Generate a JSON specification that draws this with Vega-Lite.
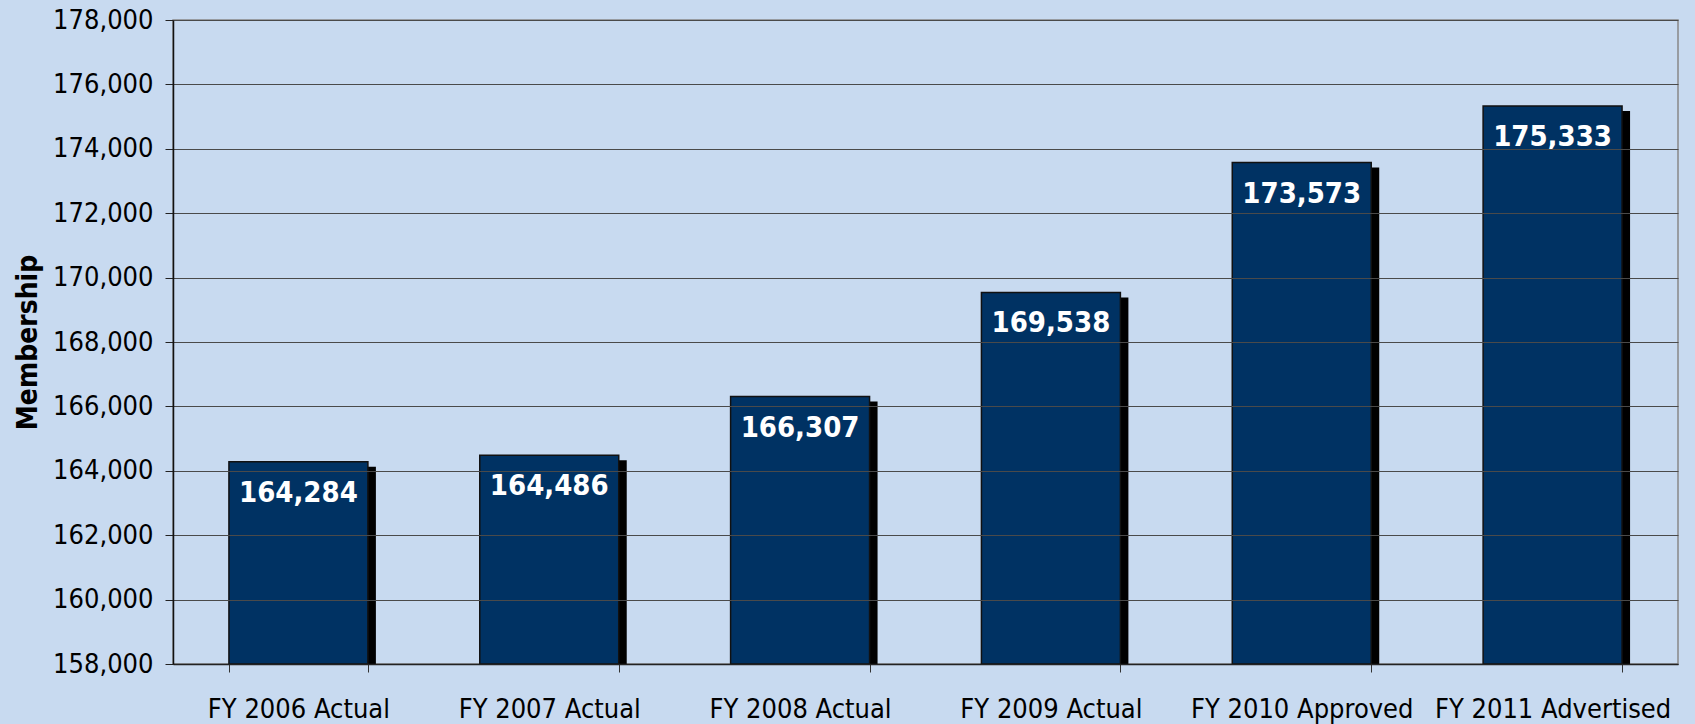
{
  "$schema": "https://vega.github.io/schema/vega-lite/v6.json",
  "width": 1505,
  "height": 644,
  "autosize": {"type": "none"},
  "padding": {"left": 173, "top": 20, "right": 17, "bottom": 60},
  "background": "#c8daf0",
  "config": {
    "view": {"stroke": "#888888", "strokeWidth": 1.5},
    "font": "DejaVu Sans Condensed, Open Sans"
  },
  "data": {
    "values": [
      {"year": "FY 2006 Actual", "membership": 164284},
      {"year": "FY 2007 Actual", "membership": 164486},
      {"year": "FY 2008 Actual", "membership": 166307},
      {"year": "FY 2009 Actual", "membership": 169538},
      {"year": "FY 2010 Approved", "membership": 173573},
      {"year": "FY 2011 Advertised", "membership": 175333}
    ]
  },
  "encoding": {
    "x": {
      "field": "year",
      "type": "nominal",
      "sort": null,
      "scale": {"paddingInner": 0.446, "paddingOuter": 0.223},
      "axis": {
        "title": null,
        "labelAngle": 0,
        "labelFont": "DejaVu Sans Condensed, Open Sans",
        "labelFontSize": 27,
        "labelColor": "#000000",
        "labelPadding": 24,
        "labelLimit": 0,
        "tickBand": "extent",
        "tickSize": 8,
        "tickColor": "#333333",
        "domainColor": "#222222",
        "domainWidth": 1.5,
        "grid": false,
        "zindex": 1
      }
    },
    "y": {
      "field": "membership",
      "type": "quantitative",
      "scale": {"domain": [158000, 178000], "zero": false, "nice": false},
      "axis": {
        "title": "Membership",
        "titleFont": "DejaVu Sans Condensed, Open Sans",
        "titleFontSize": 28,
        "titleFontWeight": "bold",
        "titleColor": "#000000",
        "titlePadding": 10,
        "tickCount": 10,
        "format": ",.0f",
        "formatType": "number",
        "labelFont": "DejaVu Sans Condensed, Open Sans",
        "labelFontSize": 27,
        "labelColor": "#000000",
        "labelPadding": 12,
        "tickSize": 8,
        "tickColor": "#222222",
        "domainColor": "#111111",
        "domainWidth": 1.5,
        "grid": true,
        "gridColor": "#4a4a4a",
        "gridWidth": 1,
        "zindex": 1
      }
    }
  },
  "layer": [
    {
      "mark": {"type": "bar", "color": "#000000", "xOffset": 8, "yOffset": 5, "clip": true},
      "encoding": {"y2": {"datum": 158000}}
    },
    {
      "mark": {"type": "bar", "color": "#003263", "stroke": "#111111", "strokeWidth": 1.5},
      "encoding": {"y2": {"datum": 158000}}
    },
    {
      "mark": {"type": "text", "color": "#ffffff", "fontWeight": "bold", "fontSize": 29, "baseline": "alphabetic", "dy": 40, "font": "DejaVu Sans Condensed, Open Sans"},
      "encoding": {"text": {"field": "membership", "type": "quantitative", "format": ",.0f"}}
    }
  ]
}
